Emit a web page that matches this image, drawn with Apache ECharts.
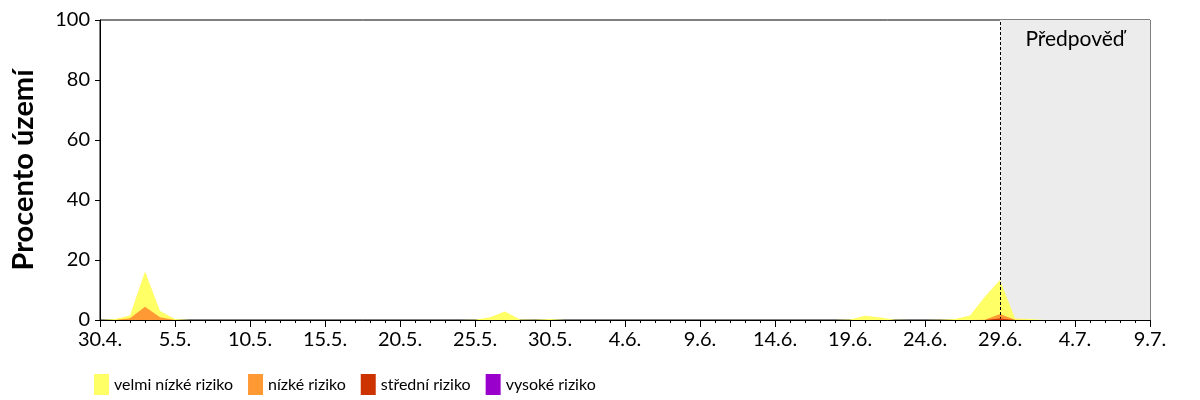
<!DOCTYPE html>
<html>
<head>
<meta charset="utf-8">
<script src="https://cdn.jsdelivr.net/npm/echarts@6/dist/echarts.min.js"></script>
<style>
    html, body { margin: 0; padding: 0; background: #fff; }
    #chart--risk { width: 1200px; height: 400px; }
</style>
</head>
<body>
<div id="chart--risk"></div>
<script>
// day index 0 = 30.4., one value per day up to 9.7. (day 70)
const startDay = [2019, 3, 30];
const forecastFrom = 60;
const forecastTo = 70;
const seriesNames = ['velmi nízké riziko', 'nízké riziko', 'střední riziko', 'vysoké riziko'];
const seriesColors = ['#ffff66', '#ff9933', '#cc3300', '#9900cc'];

// share of territory per risk class (they add up)
const veryLowValues = [
    0, 0.3, 0.9, 11.8, 2.1, 0.3, 0, 0, 0, 0,
    0, 0, 0, 0, 0, 0, 0, 0, 0, 0,
    0, 0, 0, 0, 0, 0.1, 0.9, 2.8, 0.2, 0.1,
    0.3, 0, 0, 0, 0, 0, 0, 0, 0, 0,
    0, 0, 0, 0, 0, 0, 0, 0, 0, 0,
    0.2, 1.4, 0.8, 0.1, 0, 0, 0.1, 0.3, 1.5, 7.7,
    11.3, 0.4, 0.3, 0, 0, 0, 0, 0, 0, 0,
    0
];
const lowValues = [
    0, 0, 0.6, 4.4, 0.9, 0, 0, 0, 0, 0,
    0, 0, 0, 0, 0, 0, 0, 0, 0, 0,
    0, 0, 0, 0, 0, 0, 0, 0, 0, 0,
    0, 0, 0, 0, 0, 0, 0, 0, 0, 0,
    0, 0, 0, 0, 0, 0, 0, 0, 0, 0,
    0, 0, 0, 0, 0, 0, 0, 0, 0, 0.1,
    1.5, 0.1, 0, 0, 0, 0, 0, 0, 0, 0,
    0
];
const mediumValues = [
    0, 0, 0, 0, 0, 0, 0, 0, 0, 0,
    0, 0, 0, 0, 0, 0, 0, 0, 0, 0,
    0, 0, 0, 0, 0, 0, 0, 0, 0, 0,
    0, 0, 0, 0, 0, 0, 0, 0, 0, 0,
    0, 0, 0, 0, 0, 0, 0, 0, 0, 0,
    0, 0, 0, 0, 0, 0, 0, 0, 0, 0,
    0.5, 0, 0, 0, 0, 0, 0, 0, 0, 0,
    0
];
const highValues = [
    0, 0, 0, 0, 0, 0, 0, 0, 0, 0,
    0, 0, 0, 0, 0, 0, 0, 0, 0, 0,
    0, 0, 0, 0, 0, 0, 0, 0, 0, 0,
    0, 0, 0, 0, 0, 0, 0, 0, 0, 0,
    0, 0, 0, 0, 0, 0, 0, 0, 0, 0,
    0, 0, 0, 0, 0, 0, 0, 0, 0, 0,
    0, 0, 0, 0, 0, 0, 0, 0, 0, 0,
    0
];

const fontFamily = 'Lato';

(() => {
    const chartElement = document.querySelector('#chart--risk');
    const riskChart = echarts.init(chartElement);

    function formatDay(value) {
        const d = new Date(startDay[0], startDay[1], startDay[2] + value);
        return `${d.getDate()}.${d.getMonth() + 1}.`;
    }

    // cumulative totals, drawn on top of each other (lowest class last)
    const classValues = [veryLowValues, lowValues, mediumValues, highValues];
    const cumulative = classValues.map((values, classIndex) =>
        values.map((v, i) => {
            let total = 0;
            for (let c = classIndex; c < classValues.length; c += 1) {
                total += classValues[c][i];
            }
            return [i, Number(total.toFixed(2))];
        }));

    function areaSeries(index) {
        return {
            name: seriesNames[index],
            type: 'line',
            data: cumulative[index],
            showSymbol: false,
            symbol: 'none',
            lineStyle: { width: 0 },
            areaStyle: { color: seriesColors[index], opacity: 1 },
            itemStyle: { color: seriesColors[index] },
            z: 3 + index
        };
    }

    riskChart.setOption({
        animation: false,
        textStyle: { fontFamily },
        grid: {
            left: 100,
            right: 50,
            top: 20,
            bottom: 80,
            show: true,
            borderColor: '#000',
            borderWidth: 1
        },
        legend: {
            data: seriesNames,
            left: 94,
            top: 374,
            padding: 0,
            itemWidth: 15,
            itemHeight: 21,
            itemGap: 15,
            icon: 'rect',
            textStyle: { fontFamily, fontSize: 16, color: '#000' }
        },
        xAxis: {
            type: 'value',
            min: 0,
            max: forecastTo,
            interval: 5,
            axisLine: { lineStyle: { color: '#000', width: 1 } },
            axisTick: { length: 7, lineStyle: { color: '#000' } },
            minorTick: { show: true, splitNumber: 5, length: 3, lineStyle: { color: '#000' } },
            splitLine: { show: false },
            axisLabel: {
                formatter: formatDay,
                color: '#000',
                fontSize: 20,
                margin: 10
            }
        },
        yAxis: {
            type: 'value',
            min: 0,
            max: 100,
            interval: 20,
            name: 'Procento území',
            nameLocation: 'middle',
            nameGap: 62,
            nameTextStyle: { fontFamily, fontSize: 29, fontWeight: 'bold', color: '#000' },
            axisLine: { show: true, lineStyle: { color: '#000', width: 1 } },
            axisTick: { show: true, length: 5, lineStyle: { color: '#000' } },
            splitLine: { show: false },
            axisLabel: { color: '#000', fontSize: 20, margin: 10 }
        },
        series: [
            {
                name: 'forecast',
                type: 'line',
                data: [],
                z: 1,
                silent: true,
                markArea: {
                    silent: true,
                    itemStyle: { color: '#ececec' },
                    label: {
                        show: true,
                        position: 'insideTop',
                        distance: 9,
                        color: '#000',
                        fontFamily,
                        fontSize: 21
                    },
                    data: [[{ xAxis: forecastFrom, name: 'Předpověď' }, { xAxis: forecastTo }]]
                },
                markLine: {
                    silent: true,
                    symbol: 'none',
                    label: { show: false },
                    lineStyle: { color: '#000', type: [3, 2], width: 1 },
                    data: [{ xAxis: forecastFrom }]
                }
            },
            areaSeries(0),
            areaSeries(1),
            areaSeries(2),
            areaSeries(3)
        ]
    });
})();
</script>
</body>
</html>
